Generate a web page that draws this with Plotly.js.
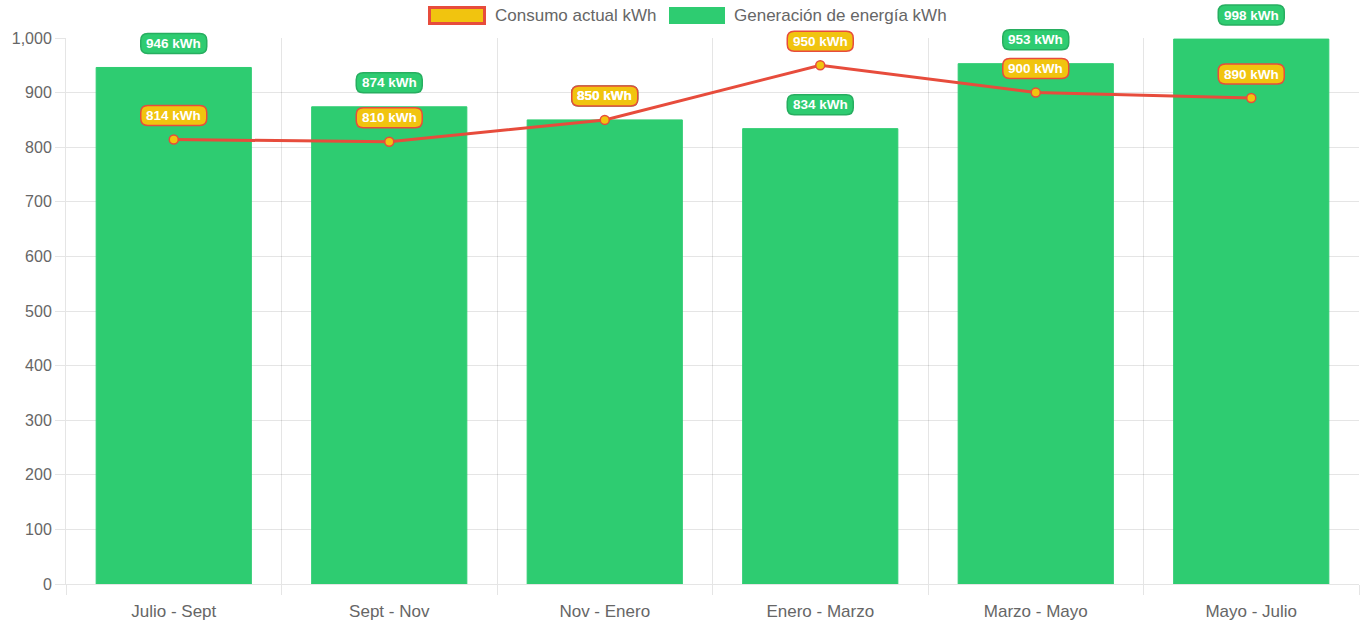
<!DOCTYPE html>
<html><head><meta charset="utf-8">
<script src="https://cdn.plot.ly/plotly-3.0.1.min.js"></script>
<style>html,body{margin:0;padding:0;background:#fff}</style>
</head><body><div id="chart" style="width:1364px;height:624px"></div>
<script>
const categories = ['Julio - Sept', 'Sept - Nov', 'Nov - Enero', 'Enero - Marzo', 'Marzo - Mayo', 'Mayo - Julio'];
const consumo = [814, 810, 850, 950, 900, 890];
const generacion = [946, 874, 850, 834, 953, 998];
const seriesNames = ['Consumo actual kWh', 'Generación de energía kWh'];
const unit = ' kWh';
const yRange = [0, 1000];

const GREEN = '#2ecc71', GREEN_DARK = '#27ae60', YELLOW = '#f1c40f', RED = '#e74c3c';
const FONT = 'Liberation Sans, Arial, sans-serif';
const M = {l: 66, r: 5, t: 38, b: 40};
const W = 1364, H = 624;
const PW = W - M.l - M.r, PH = H - M.t - M.b;
const fx = p => (p - M.l) / PW;
const fy = p => (H - M.b - p) / PH;

function pill(xc, yv, fill, border) {
  const hw = 33, y0 = 14, y1 = 34, r = 7;
  const path = `M${-hw + r},${y0} L${hw - r},${y0} Q${hw},${y0} ${hw},${y0 + r} L${hw},${y1 - r} Q${hw},${y1} ${hw - r},${y1} L${-hw + r},${y1} Q${-hw},${y1} ${-hw},${y1 - r} L${-hw},${y0 + r} Q${-hw},${y0} ${-hw + r},${y0} Z`;
  // y anchored on the paper so the pill is not clipped at the top of the plot area
  return {type: 'path', xref: 'x', yref: 'paper', xsizemode: 'pixel', ysizemode: 'pixel',
    xanchor: xc, yanchor: (yv - yRange[0]) / (yRange[1] - yRange[0]), path: path,
    fillcolor: fill, line: {color: border, width: 1.5}, layer: 'above'};
}
function label(xc, yv, v) {
  return {x: xc, y: yv, xref: 'x', yref: 'y', text: '<b>' + v + unit + '</b>', showarrow: false,
    yshift: 24, font: {family: FONT, size: 13.5, color: '#ffffff'}, xanchor: 'center', yanchor: 'middle'};
}

const shapes = [], annotations = [];
categories.forEach((c, i) => {
  shapes.push(pill(c, generacion[i], GREEN, GREEN_DARK));
  annotations.push(label(c, generacion[i], generacion[i]));
  shapes.push(pill(c, consumo[i], YELLOW, RED));
  annotations.push(label(c, consumo[i], consumo[i]));
});

// custom legend (Chart.js style boxes)
shapes.push({type: 'rect', xref: 'paper', yref: 'paper', x0: fx(429.5), x1: fx(484.5), y0: fy(23.5), y1: fy(7.5),
  fillcolor: YELLOW, line: {color: RED, width: 3}});
shapes.push({type: 'rect', xref: 'paper', yref: 'paper', x0: fx(669), x1: fx(725), y0: fy(24), y1: fy(7),
  fillcolor: GREEN, line: {color: GREEN, width: 0}});
annotations.push({xref: 'paper', yref: 'paper', x: fx(493), y: fy(15.5), xanchor: 'left', yanchor: 'middle',
  text: seriesNames[0], showarrow: false, font: {family: FONT, size: 17, color: '#666'}});
annotations.push({xref: 'paper', yref: 'paper', x: fx(732), y: fy(15.5), xanchor: 'left', yanchor: 'middle',
  text: seriesNames[1], showarrow: false, font: {family: FONT, size: 17, color: '#666'}});

const traces = [
  {type: 'bar', x: categories, y: generacion, name: seriesNames[1], marker: {color: GREEN, line: {color: GREEN, width: 1}},
   hoverinfo: 'skip'},
  {type: 'scatter', mode: 'lines+markers', x: categories, y: consumo, name: seriesNames[0],
   line: {color: RED, width: 3}, marker: {size: 9, color: YELLOW, line: {color: RED, width: 1.5}}, cliponaxis: false,
   hoverinfo: 'skip'}
];

const grid = 'rgba(0,0,0,0.1)';
const layout = {
  width: W, height: H, margin: M, showlegend: false, bargap: 0.28,
  paper_bgcolor: '#fff', plot_bgcolor: '#fff',
  font: {family: FONT, color: '#666', size: 16},
  xaxis: {type: 'category', tickson: 'boundaries', showgrid: true, gridcolor: grid, gridwidth: 1,
    ticks: 'outside', ticklen: 10, tickcolor: grid, showline: true, linecolor: grid, linewidth: 1,
    ticklabelstandoff: 12,
    tickfont: {family: FONT, size: 17, color: '#666'}, range: [-0.5, 5.5], automargin: false, fixedrange: true},
  yaxis: {range: yRange, dtick: 100, tickformat: ',d', showgrid: true, gridcolor: grid, gridwidth: 1,
    ticks: 'outside', ticklen: 10, tickcolor: grid, showline: true, linecolor: grid, linewidth: 1, zeroline: false,
    tickfont: {family: FONT, size: 16, color: '#666'}, automargin: false, fixedrange: true},
  shapes: shapes, annotations: annotations
};
Plotly.newPlot('chart', traces, layout, {displayModeBar: false, staticPlot: true});
</script></body></html>
